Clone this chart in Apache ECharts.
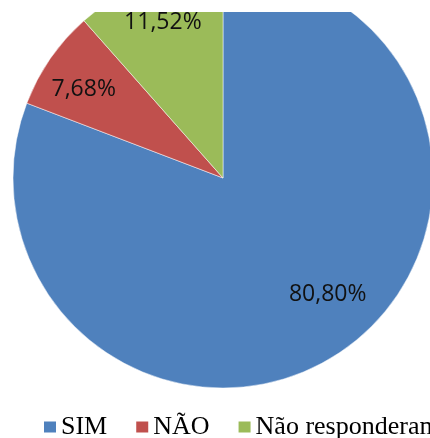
<!DOCTYPE html>
<html>
<head>
<meta charset="utf-8">
<script src="https://cdn.jsdelivr.net/npm/echarts@6/dist/echarts.min.js"></script>
<style>
  html, body { margin: 0; padding: 0; background: #fff; }
  #main { width: 430px; height: 438px; }
</style>
</head>
<body>
<div id="main"></div>
<script>
const categories = ["SIM", "NÃO", "Não responderam"];
const values = [80.8, 7.68, 11.52];
const colors = ["#4F81BD", "#C0504D", "#9BBB59"];

const data = categories.map((name, i) => ({
  name,
  value: values[i],
  itemStyle: { color: colors[i] },
}));

const fmt = (v) => v.toFixed(2).replace(".", ",") + "%";

// small nudges so labels sit where the original put them
const labelNudge = [
  { dx: 10, dy: -21 },
  { dx: -2, dy: 7 },
  { dx: -1, dy: 1 },
];

const chart = echarts.init(document.getElementById("main"));
chart.setOption({
  animation: false,
  backgroundColor: "#fff",
  legend: {
    data: categories,
    left: 42,
    top: 414,
    width: 800,
    padding: 0,
    icon: "rect",
    itemWidth: 14,
    itemHeight: 13,
    itemGap: 27,
    textStyle: {
      fontFamily: "Liberation Serif",
      fontSize: 26,
      color: "#000",
      padding: [0, 0, 0, -1],
    },
  },
  graphic: [
    {
      type: "rect",
      left: 0,
      top: 0,
      z: 100,
      shape: { width: 430, height: 12 },
      style: { fill: "#fff" },
    },
  ],
  series: [
    {
      type: "pie",
      center: [223, 178],
      radius: 210,
      startAngle: 90,
      clockwise: true,
      silent: true,
      label: { show: false },
      labelLine: { show: false },
      itemStyle: { borderColor: "#fff", borderWidth: 0.5 },
      data: data,
    },
    {
      // transparent ring just for placing the percentage labels
      type: "pie",
      center: [223, 178],
      radius: [118, 210],
      startAngle: 90,
      clockwise: true,
      silent: true,
      legendHoverLink: false,
      itemStyle: { color: "transparent" },
      label: {
        show: true,
        position: "inside",
        fontFamily: "Open Sans",
        fontSize: 23,
        color: "#111",
        formatter: (p) => fmt(p.value),
      },
      labelLine: { show: false },
      labelLayout: (p) => labelNudge[p.dataIndex],
      data: categories.map((name, i) => ({ name: name + " ", value: values[i] })),
    },
  ],
});
</script>
</body>
</html>
